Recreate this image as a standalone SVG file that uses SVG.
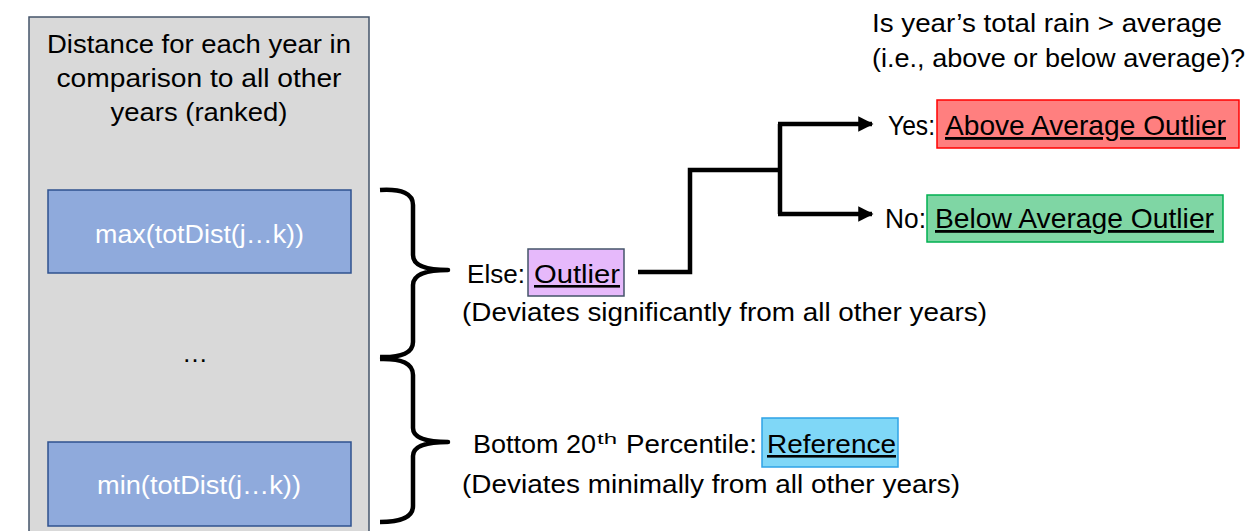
<svg xmlns="http://www.w3.org/2000/svg" width="1251" height="531" viewBox="0 0 1251 531">
  <style>
    .t { font-family: "Liberation Sans", Arial, sans-serif; font-size: 26px; fill: #000; }
    .big { font-size: 28px; }
    .sup { font-size: 15px; }
    .w { fill: #fff; }
    .u { text-decoration: underline; }
    .brace { fill: none; stroke: #000; stroke-width: 4.5; stroke-linejoin: round; }
    .conn { fill: none; stroke: #000; stroke-width: 4.5; }
  </style>
  <defs>
    <marker id="arrow" viewBox="0 0 10 10" refX="9" refY="5" markerWidth="3.4" markerHeight="3.4" orient="auto" markerUnits="strokeWidth">
      <path d="M0,0 L10,5 L0,10 z" fill="#000"/>
    </marker>
  </defs>

  <!-- ranked distance panel -->
  <g id="panel">
    <rect x="29" y="17" width="340" height="530" fill="#d9d9d9" stroke="#44546a" stroke-width="1.5"/>
    <text class="t" text-anchor="middle" x="199" y="53" textLength="304" lengthAdjust="spacingAndGlyphs">Distance for each year in</text>
    <text class="t" text-anchor="middle" x="199" y="87" textLength="285" lengthAdjust="spacingAndGlyphs">comparison to all other</text>
    <text class="t" text-anchor="middle" x="199" y="121" textLength="177" lengthAdjust="spacingAndGlyphs">years (ranked)</text>
    <text class="t" text-anchor="middle" x="195" y="362">…</text>
  </g>
  <g id="max-node">
    <rect x="48" y="190" width="303" height="83" fill="#8faadc" stroke="#2f528f" stroke-width="1.5"/>
    <text class="t w" text-anchor="middle" x="199.5" y="243" textLength="209" lengthAdjust="spacingAndGlyphs">max(totDist(j…k))</text>
  </g>
  <g id="min-node">
    <rect x="48" y="442" width="303" height="84" fill="#8faadc" stroke="#2f528f" stroke-width="1.5"/>
    <text class="t w" text-anchor="middle" x="199" y="494" textLength="204" lengthAdjust="spacingAndGlyphs">min(totDist(j…k))</text>
  </g>

  <!-- outlier classification -->
  <g id="outlier-node">
    <rect x="528" y="249" width="96" height="47" fill="#e6b9fb" stroke="#44546a" stroke-width="1.5"/>
    <text class="t" x="467" y="283" textLength="58" lengthAdjust="spacingAndGlyphs">Else:</text>
    <text class="t u" x="534" y="283" textLength="86" lengthAdjust="spacingAndGlyphs">Outlier</text>
    <text class="t" x="462" y="321" textLength="525" lengthAdjust="spacingAndGlyphs">(Deviates significantly from all other years)</text>
  </g>

  <!-- reference classification -->
  <g id="reference-node">
    <rect x="762" y="418" width="136" height="49" fill="#7fd7f7" stroke="#2ea3e6" stroke-width="1.5"/>
    <text class="t" x="473" y="453" textLength="123" lengthAdjust="spacingAndGlyphs">Bottom 20</text>
    <text class="t sup" x="597" y="444" textLength="20" lengthAdjust="spacingAndGlyphs">th</text>
    <text class="t" x="626" y="453" textLength="131" lengthAdjust="spacingAndGlyphs">Percentile:</text>
    <text class="t u" x="767" y="453" textLength="129" lengthAdjust="spacingAndGlyphs">Reference</text>
    <text class="t" x="462" y="493" textLength="498" lengthAdjust="spacingAndGlyphs">(Deviates minimally from all other years)</text>
  </g>

  <!-- rainfall question -->
  <g id="question">
    <text class="t" x="872" y="32" textLength="350" lengthAdjust="spacingAndGlyphs">Is year’s total rain &gt; average</text>
    <text class="t" x="872" y="67" textLength="373" lengthAdjust="spacingAndGlyphs">(i.e., above or below average)?</text>
  </g>

  <g id="above-node">
    <rect x="937" y="100" width="302" height="48" fill="#ff7f7f" stroke="#ff0000" stroke-width="1.5"/>
    <text class="t big" x="888" y="135" textLength="47" lengthAdjust="spacingAndGlyphs">Yes:</text>
    <text class="t big u" x="945" y="135" textLength="281" lengthAdjust="spacingAndGlyphs">Above Average Outlier</text>
  </g>
  <g id="below-node">
    <rect x="927" y="195" width="296" height="47" fill="#7fd6a4" stroke="#00b050" stroke-width="1.5"/>
    <text class="t big" x="885" y="228" textLength="41" lengthAdjust="spacingAndGlyphs">No:</text>
    <text class="t big u" x="935" y="228" textLength="279" lengthAdjust="spacingAndGlyphs">Below Average Outlier</text>
  </g>

  <!-- braces and decision connectors -->
  <g id="connectors">
    <path class="brace" d="M380,190 Q413,188 413,205 L413,255 Q413,270 448,270 Q413,270 413,285 L413,342 Q413,358 380,357"/>
    <path class="brace" d="M380,359 Q413,358 413,375 L413,428 Q413,442 448,442 Q413,442 413,456 L413,506 Q413,522 380,522"/>
    <path class="conn" d="M638,272 L690,272 L690,170 L780,170"/>
    <path class="conn" d="M780,124 L780,214"/>
    <path class="conn" d="M778,124 L872,124" marker-end="url(#arrow)"/>
    <path class="conn" d="M778,214 L872,214" marker-end="url(#arrow)"/>
  </g>
</svg>
